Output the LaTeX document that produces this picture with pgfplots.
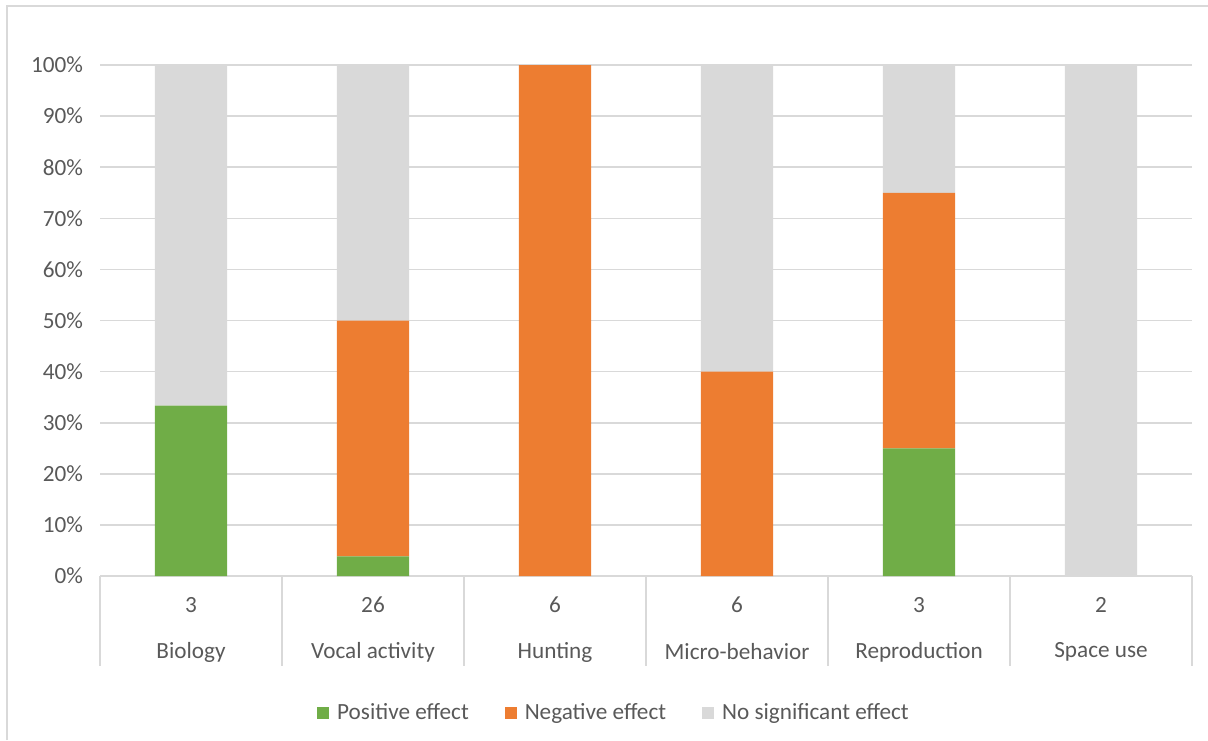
\documentclass[border=0pt]{standalone}
\usepackage{pgfplots}
\pgfplotsset{compat=1.18}
\usepackage{fontspec}
\setmainfont{Carlito}
\definecolor{pos}{HTML}{70AD47}
\definecolor{neg}{HTML}{ED7D31}
\definecolor{nse}{HTML}{D9D9D9}
\definecolor{txt}{HTML}{595959}
\definecolor{gridc}{HTML}{D9D9D9}
\newcommand{\chartfont}{\fontsize{11.6}{14}\selectfont}
\begin{document}
\begin{tikzpicture}
\useasboundingbox (-50pt,-82pt) rectangle (554pt,288pt);
\draw[gridc, line width=0.7pt] (-46.5pt,-82pt) -- (-46.5pt,285pt) -- (554pt,285pt);
\begin{axis}[
  at={(0,0)}, anchor=south west,
  width=546pt, height=255.5pt, scale only axis,
  ybar stacked, bar width=0.396,
  xmin=-0.5, xmax=5.5, ymin=0, ymax=100,
  xtick=\empty,
  ytick={0,10,...,100},
  /pgf/number format/assume math mode=true,
  yticklabel={\pgfmathprintnumber{\tick}\%},
  yticklabel style={font=\chartfont, text=txt, xshift=-5pt},
  ymajorgrids, grid style={gridc, line width=0.8pt},
  axis x line*=bottom, axis y line*=left,
  x axis line style={gridc, line width=0.8pt, -},
  y axis line style={draw=none},
  major tick length=0pt,
  clip=false,
  legend style={draw=none, fill=none, legend columns=3, at={(0.4716,-0.268)}, anchor=center,
    font=\chartfont, text=txt,
    /tikz/every even column/.append style={column sep=16pt}},
  legend image code/.code={\fill[#1] (0pt,-3pt) rectangle (6pt,3pt);},
  legend cell align=left,
]
\addplot[fill=pos, draw=none] coordinates {(0,33.33) (1,3.85) (2,0) (3,0) (4,25) (5,0)};
\addplot[fill=neg, draw=none] coordinates {(0,0) (1,46.15) (2,100) (3,40) (4,50) (5,0)};
\addplot[fill=nse, draw=none] coordinates {(0,66.67) (1,50) (2,0) (3,60) (4,25) (5,100)};
\legend{\hspace{2pt}Positive effect, \hspace{2pt}Negative effect, \hspace{2pt}No significant effect}
\draw[gridc, line width=0.8pt] (axis cs:-0.5,0) -- ([yshift=-45pt]axis cs:-0.5,0);
\draw[gridc, line width=0.8pt] (axis cs:0.5,0) -- ([yshift=-45pt]axis cs:0.5,0);
\draw[gridc, line width=0.8pt] (axis cs:1.5,0) -- ([yshift=-45pt]axis cs:1.5,0);
\draw[gridc, line width=0.8pt] (axis cs:2.5,0) -- ([yshift=-45pt]axis cs:2.5,0);
\draw[gridc, line width=0.8pt] (axis cs:3.5,0) -- ([yshift=-45pt]axis cs:3.5,0);
\draw[gridc, line width=0.8pt] (axis cs:4.5,0) -- ([yshift=-45pt]axis cs:4.5,0);
\draw[gridc, line width=0.8pt] (axis cs:5.5,0) -- ([yshift=-45pt]axis cs:5.5,0);
\node[txt, font=\chartfont] at ([yshift=-14.5pt]axis cs:0,0) {3};
\node[txt, font=\chartfont] at ([yshift=-14.5pt]axis cs:1,0) {26};
\node[txt, font=\chartfont] at ([yshift=-14.5pt]axis cs:2,0) {6};
\node[txt, font=\chartfont] at ([yshift=-14.5pt]axis cs:3,0) {6};
\node[txt, font=\chartfont] at ([yshift=-14.5pt]axis cs:4,0) {3};
\node[txt, font=\chartfont] at ([yshift=-14.5pt]axis cs:5,0) {2};
\node[txt, font=\chartfont] at ([yshift=-38pt]axis cs:0,0) {Biology};
\node[txt, font=\chartfont] at ([yshift=-38pt]axis cs:1,0) {Vocal activity};
\node[txt, font=\chartfont] at ([yshift=-38pt]axis cs:2,0) {Hunting};
\node[txt, font=\chartfont] at ([yshift=-38pt]axis cs:3,0) {Micro-behavior};
\node[txt, font=\chartfont] at ([yshift=-38pt]axis cs:4,0) {Reproduction};
\node[txt, font=\chartfont] at ([yshift=-38pt]axis cs:5,0) {Space use};
\end{axis}
\end{tikzpicture}
\end{document}
